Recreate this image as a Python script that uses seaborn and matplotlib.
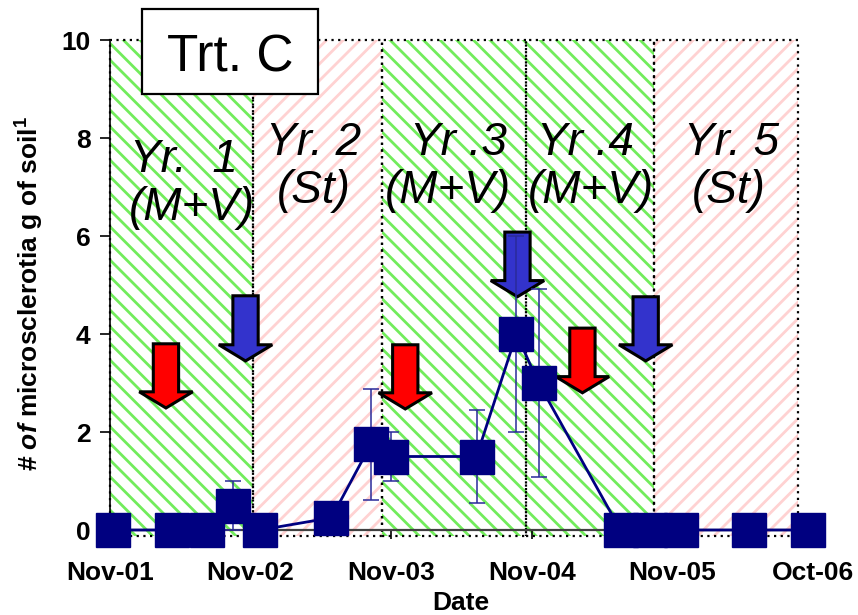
import matplotlib
matplotlib.use("Agg")
import matplotlib.pyplot as plt
import seaborn as sns
import pandas as pd
from matplotlib.patches import Polygon, Rectangle

# ---------------- data ----------------
date_years = [0.018, 0.44, 0.69, 0.878, 1.067, 1.575, 1.856, 2.002, 2.607,
              2.891, 3.048, 3.631, 3.844, 4.058, 4.548, 4.961]
microsclerotia = [0, 0, 0, 0.5, 0, 0.25, 1.75, 1.5, 1.5,
                  4.0, 3.0, 0, 0, 0, 0, 0]
error = [0, 0, 0, 0.49, 0, 0, 1.13, 0.5, 0.95,
         2.0, 1.92, 0, 0, 0, 0, 0]

tick_pos = [0, 1, 2, 3, 4, 5]
tick_labels = ["Nov-01", "Nov-02", "Nov-03", "Nov-04", "Nov-05", "Oct-06"]
y_ticks = [0, 2, 4, 6, 8, 10]

panel_edges = [0, 1.017, 1.933, 2.96, 3.87, 4.89]
panel_kind = ["M+V", "St", "M+V", "M+V", "St"]

year_line1 = ["Yr.  1", "Yr. 2", "Yr .3", "Yr .4", "Yr. 5"]
year_line2 = ["(M+V)", "(St)", "(M+V)", "(M+V)", "(St)"]
line1_x = [0.526, 1.45, 2.475, 3.38, 4.42]
line2_x = [0.585, 1.45, 2.40, 3.42, 4.40]
line1_y = [7.31, 7.65, 7.65, 7.65, 7.65]
line2_y = [6.33, 6.67, 6.67, 6.67, 6.67]

arrow_x = [0.398, 0.964, 2.10, 2.898, 3.36, 3.81]
arrow_top = [3.80, 4.78, 3.78, 6.08, 4.12, 4.76]
arrow_tip = [2.49, 3.45, 2.47, 4.76, 2.80, 3.45]
arrow_kind = ["red", "blue", "red", "blue", "red", "blue"]

# ---------------- style ----------------
sns.set_theme(style="ticks")
plt.rcParams["font.family"] = ["Liberation Sans", "DejaVu Sans"]
plt.rcParams["text.color"] = "black"
plt.rcParams["axes.labelcolor"] = "black"
plt.rcParams["xtick.color"] = "black"
plt.rcParams["ytick.color"] = "black"
plt.rcParams["mathtext.fontset"] = "custom"
plt.rcParams["mathtext.rm"] = "Liberation Sans:bold"
plt.rcParams["mathtext.bf"] = "Liberation Sans:bold"
plt.rcParams["mathtext.it"] = "Liberation Sans:italic:bold"

W, H = 858, 615
fig = plt.figure(figsize=(W / 100, H / 100), dpi=100)
ax = fig.add_axes([110 / W, 85 / H, 703 / W, 490 / H])
ax.set_xlim(0, 5)
ax.set_ylim(0, 10)

panel_fill = {"M+V": "#72EC5C", "St": "#FFD2D2"}
panel_lw = {"M+V": 2.0, "St": 2.0}
panel_bottom = -0.12
for i, kind in enumerate(panel_kind):
    x0, x1 = panel_edges[i], panel_edges[i + 1]
    plt.rcParams["hatch.linewidth"] = panel_lw[kind]
    hatch = "\\\\" if kind == "M+V" else "//"
    r = Rectangle((x0, panel_bottom), x1 - x0, 10 - panel_bottom,
                  facecolor="white", edgecolor=panel_fill[kind], hatch=hatch,
                  linewidth=0, zorder=0.5, clip_on=False)
    ax.add_patch(r)
    b = Rectangle((x0, panel_bottom), x1 - x0, 10 - panel_bottom,
                  fill=False, edgecolor="black", linestyle=(0, (1, 2)),
                  linewidth=1.6, zorder=0.7, clip_on=False)
    ax.add_patch(b)

for i in range(len(year_line1)):
    ax.text(line1_x[i], line1_y[i], year_line1[i], ha="center", va="baseline",
            fontsize=33, style="italic", color="black", zorder=1)
    ax.text(line2_x[i], line2_y[i], year_line2[i], ha="center", va="baseline",
            fontsize=33, style="italic", color="black", zorder=1)

# arrows
arrow_colors = {"red": "#FF0000", "blue": "#3333CC"}
shaft_hw = 0.09
head_hw = 0.19
head_len = 0.33
for xc, top, tip, kind in zip(arrow_x, arrow_top, arrow_tip, arrow_kind):
    base = tip + head_len
    pts = [(xc - shaft_hw, top), (xc + shaft_hw, top), (xc + shaft_hw, base),
           (xc + head_hw, base), (xc, tip), (xc - head_hw, base),
           (xc - shaft_hw, base)]
    ax.add_patch(Polygon(pts, closed=True, facecolor=arrow_colors[kind],
                         edgecolor="black", linewidth=2.2, joinstyle="miter",
                         zorder=1.5))

df = pd.DataFrame({"Date": date_years, "Microsclerotia": microsclerotia,
                   "err": error})

ax.errorbar(df["Date"], df["Microsclerotia"], yerr=df["err"], fmt="none",
            ecolor="#2A2A9A", elinewidth=1.1, capsize=5.5, capthick=1.1,
            zorder=2)
sns.lineplot(data=df, x="Date", y="Microsclerotia", ax=ax, color="#000080",
             linewidth=2.0, marker="s", markersize=25, markeredgewidth=1.0,
             markeredgecolor="#000080", clip_on=False, zorder=3,
             estimator=None, errorbar=None)

# axes styling
for s in ["top", "right"]:
    ax.spines[s].set_visible(False)
ax.spines["left"].set_color("black")
ax.spines["left"].set_linewidth(1.2)
ax.spines["bottom"].set_color("#404040")
ax.spines["bottom"].set_linewidth(1.6)
ax.spines["left"].set_zorder(1)
ax.spines["bottom"].set_zorder(1)

ax.set_xticks(tick_pos)
ax.set_xticklabels(tick_labels, fontsize=19, fontweight="bold")
ax.set_yticks(y_ticks)
ax.set_yticklabels([str(v) for v in y_ticks], fontsize=19, fontweight="bold")
ax.tick_params(axis="x", direction="out", length=6.5, width=1.2, pad=16,
               colors="black", bottom=True)
ax.tick_params(axis="y", direction="out", length=7, width=1.2, pad=7,
               colors="black", left=True)
ax.set_xlabel("")
ax.set_ylabel("")

fig.text(461 / W, 1 - 610 / H, "Date", ha="center", va="baseline",
         fontsize=19, fontweight="bold", color="black")
fig.text(30 / W, 1 - 294 / H,
         r"# $\mathit{of}$ microsclerotia g of soil$^{1}$",
         rotation=90, ha="center", va="center", fontsize=19,
         fontweight="bold", color="black")

# "Trt. C" box
fig.add_artist(Rectangle((142 / W, 1 - 94 / H), 176 / W, 85 / H,
                         transform=fig.transFigure, facecolor="white",
                         edgecolor="black", linewidth=1.6, zorder=5))
fig.text(230 / W, 1 - 72 / H, "Trt. C", ha="center", va="baseline",
         fontsize=37, zorder=6, color="black")

fig.savefig("out.png", dpi=100, facecolor="white")
